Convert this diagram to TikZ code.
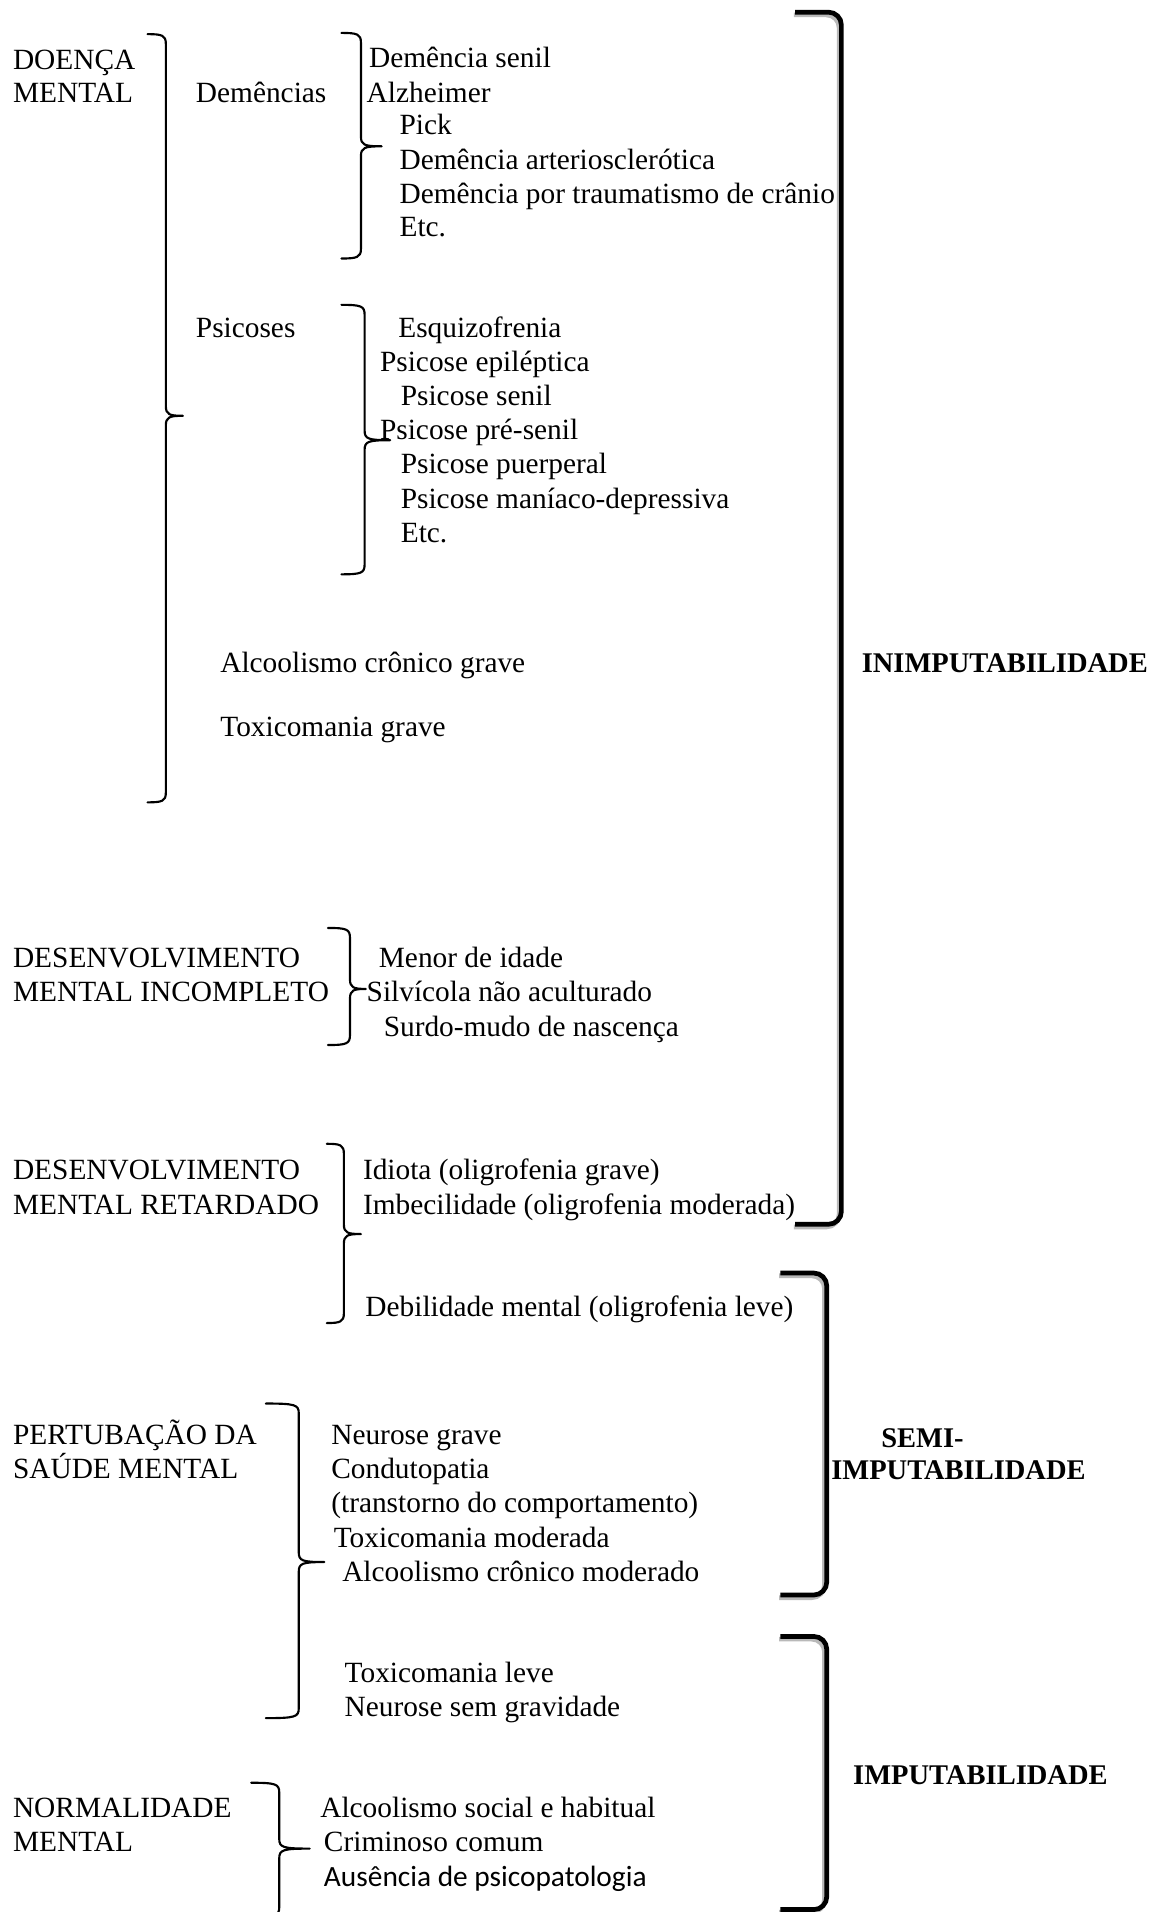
\documentclass[tikz,border=0pt]{standalone}
\usepackage{fontspec}
\setmainfont{Liberation Serif}
\newfontfamily\calibrifont{Carlito}
\usepackage{tikz}
\usetikzlibrary{positioning, calc}
\tikzset{
  item/.style={anchor=west, inner sep=0pt, text height=1.6ex, text depth=0.4ex},
  verdict/.style={item, font=\fontsize{6.65}{7.6}\selectfont\bfseries},
  curly/.style={line width=0.5pt, line join=round, line cap=round},
  bracket/.style={line width=1.1pt, rounded corners=3pt},
  bracketshade/.style={bracket, draw=gray!55},
}
% right curly brace: hook x, line x, tip x, top y, tip y, bottom y
\newcommand{\tallbrace}[6]{%
  \draw[curly] (#1,#4) .. controls ({#2-0.03},#4) and (#2,{#4-0.01}) .. (#2,{#4-0.08})
    -- (#2,{#5+0.08}) .. controls (#2,{#5+0.01}) and ({#2+0.03},#5) .. (#3,#5)
    .. controls ({#2+0.03},#5) and (#2,{#5-0.01}) .. (#2,{#5-0.08})
    -- (#2,{#6+0.08}) .. controls (#2,{#6+0.01}) and ({#2-0.03},#6) .. (#1,#6);}
% thick square bracket with shadow: left x, line x, top y, bottom y
\newcommand{\thickbracket}[4]{%
  \draw[bracketshade] ({#1-0.01},{#3-0.022}) -- ({#2-0.018},{#3-0.022})
    -- ({#2-0.018},{#4-0.022}) -- ({#1-0.01},{#4-0.022});
  \draw[bracket] (#1,#3) -- (#2,#3) -- (#2,#4) -- (#1,#4);}

\begin{document}
\begin{tikzpicture}[font=\fontsize{6.85}{7.85}\selectfont]
  \useasboundingbox (0,0) rectangle (9.44,-15.68);

  % Doenca mental
  \node[item] (doenca1) at (0.10,-0.47) {DOENÇA};
  \node[item] (doenca2) at (0.10,-0.74) {MENTAL};
  \tallbrace{1.21}{1.36}{1.50}{-0.28}{-3.41}{-6.58}

  \node[item] (dem) at (1.60,-0.74) {Demências};
  \tallbrace{2.80}{2.96}{3.13}{-0.27}{-1.20}{-2.12}
  \node[item] (dem1) at (3.02,-0.46) {Demência senil};
  \node[item] (dem2) at (3.00,-0.74) {Alzheimer};
  \node[item] (dem3) at (3.27,-1.01) {Pick};
  \node[item] (dem4) at (3.27,-1.29) {Demência arteriosclerótica};
  \node[item] (dem5) at (3.27,-1.57) {Demência por traumatismo de crânio};
  \node[item] (dem6) at (3.27,-1.84) {Etc.};

  \node[item] (psi) at (1.60,-2.67) {Psicoses};
  \tallbrace{2.80}{2.99}{3.20}{-2.50}{-3.61}{-4.71}
  \node[item] (psi1) at (3.26,-2.67) {Esquizofrenia};
  \node[item] (psi2) at (3.11,-2.95) {Psicose epiléptica};
  \node[item] (psi3) at (3.28,-3.23) {Psicose senil};
  \node[item] (psi4) at (3.11,-3.51) {Psicose pré-senil};
  \node[item] (psi5) at (3.28,-3.79) {Psicose puerperal};
  \node[item] (psi6) at (3.28,-4.07) {Psicose maníaco-depressiva};
  \node[item] (psi7) at (3.28,-4.35) {Etc.};

  \node[item] (alc) at (1.80,-5.42) {Alcoolismo crônico grave};
  \node[item] (tox) at (1.80,-5.94) {Toxicomania grave};

  % Desenvolvimento incompleto
  \node[item] (inc1) at (0.10,-7.84) {DESENVOLVIMENTO};
  \node[item] (inc2) at (0.10,-8.12) {MENTAL INCOMPLETO};
  \tallbrace{2.69}{2.87}{3.00}{-7.61}{-8.11}{-8.57}
  \node[item] (menor) at (3.10,-7.84) {Menor de idade};
  \node[item] (silv) at (3.00,-8.12) {Silvícola não aculturado};
  \node[item] (surdo) at (3.14,-8.40) {Surdo-mudo de nascença};

  % Desenvolvimento retardado
  \node[item] (ret1) at (0.10,-9.58) {DESENVOLVIMENTO};
  \node[item] (ret2) at (0.10,-9.86) {MENTAL RETARDADO};
  \tallbrace{2.68}{2.82}{2.96}{-9.38}{-10.12}{-10.85}
  \node[item] (idiota) at (2.97,-9.58) {Idiota (oligrofenia grave)};
  \node[item] (imbec) at (2.97,-9.86) {Imbecilidade (oligrofenia moderada)};
  \node[item] (debil) at (2.99,-10.70) {Debilidade mental (oligrofenia leve)};

  % Pertubacao da saude mental
  \node[item] (pert1) at (0.10,-11.75) {PERTUBAÇÃO DA};
  \node[item] (pert2) at (0.10,-12.03) {SAÚDE MENTAL};
  \tallbrace{2.18}{2.45}{2.66}{-11.51}{-12.81}{-14.09}
  \node[item] (pert3) at (2.71,-11.75) {Neurose grave};
  \node[item] (pert4) at (2.71,-12.03) {Condutopatia};
  \node[item] (pert5) at (2.71,-12.31) {(transtorno do comportamento)};
  \node[item] (pert6) at (2.73,-12.59) {Toxicomania moderada};
  \node[item] (pert7) at (2.80,-12.87) {Alcoolismo crônico moderado};
  \node[item] (pert8) at (2.82,-13.70) {Toxicomania leve};
  \node[item] (pert9) at (2.82,-13.98) {Neurose sem gravidade};

  % Normalidade mental
  \node[item] (norm1) at (0.10,-14.81) {NORMALIDADE};
  \node[item] (norm2) at (0.10,-15.09) {MENTAL};
  \tallbrace{2.06}{2.29}{2.54}{-14.62}{-15.16}{-15.72}
  \node[item] (norm3) at (2.62,-14.81) {Alcoolismo social e habitual};
  \node[item] (norm4) at (2.65,-15.09) {Criminoso comum};
  \node[item, font=\fontsize{6.85}{7.85}\selectfont\calibrifont] (norm5)
    at (2.65,-15.37) {Ausência de psicopatologia};

  % Verdicts
  \thickbracket{6.52}{6.90}{-0.10}{-10.04}
  \node[verdict] (inimp) at (7.06,-5.42) {INIMPUTABILIDADE};
  \thickbracket{6.40}{6.78}{-10.44}{-13.08}
  \node[verdict] (semi1) at (7.22,-11.77) {SEMI-};
  \node[verdict] (semi2) at (6.81,-12.04) {IMPUTABILIDADE};
  \thickbracket{6.40}{6.78}{-13.42}{-15.66}
  \node[verdict] (imp) at (6.99,-14.54) {IMPUTABILIDADE};
\end{tikzpicture}
\end{document}
